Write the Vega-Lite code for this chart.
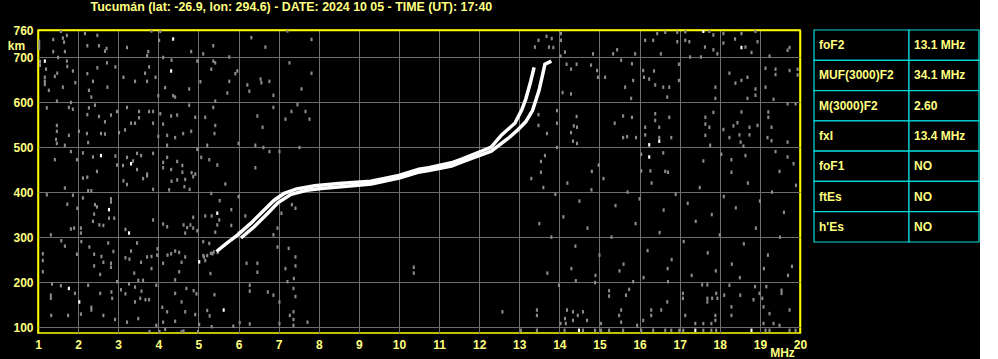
{
  "$schema": "https://vega.github.io/schema/vega-lite/v6.json",
  "background": "#000000",
  "padding": {"left": 6, "top": 0, "right": 0, "bottom": 0},
  "title": {"text": "Tucumán (lat: -26.9, lon: 294.6) - DATE: 2024 10 05 - TIME (UT): 17:40", "anchor": "start", "dx": 84, "offset": 10, "color": "#ffff80", "font": "Liberation Sans", "fontSize": 12.4, "fontWeight": "bold"},
  "datasets": {
    "trace": [
      {"mode": "O", "f": 5.45, "h": 268}, {"mode": "O", "f": 5.7, "h": 286}, {"mode": "O", "f": 5.98, "h": 305}, {"mode": "O", "f": 6.31, "h": 331}, {"mode": "O", "f": 6.64, "h": 360}, {"mode": "O", "f": 6.89, "h": 382}, {"mode": "O", "f": 7.14, "h": 397}, {"mode": "O", "f": 7.45, "h": 407}, {"mode": "O", "f": 7.9, "h": 414}, {"mode": "O", "f": 8.5, "h": 419}, {"mode": "O", "f": 9.3, "h": 424}, {"mode": "O", "f": 10.0, "h": 437}, {"mode": "O", "f": 10.5, "h": 451}, {"mode": "O", "f": 10.74, "h": 454}, {"mode": "O", "f": 11.31, "h": 465}, {"mode": "O", "f": 11.58, "h": 474}, {"mode": "O", "f": 12.0, "h": 489}, {"mode": "O", "f": 12.3, "h": 500}, {"mode": "O", "f": 12.56, "h": 527}, {"mode": "O", "f": 12.89, "h": 553}, {"mode": "O", "f": 13.06, "h": 582}, {"mode": "O", "f": 13.16, "h": 606}, {"mode": "O", "f": 13.28, "h": 644}, {"mode": "O", "f": 13.37, "h": 677},
      {"mode": "X", "f": 6.06, "h": 298}, {"mode": "X", "f": 6.39, "h": 323}, {"mode": "X", "f": 6.73, "h": 353}, {"mode": "X", "f": 6.98, "h": 376}, {"mode": "X", "f": 7.31, "h": 395}, {"mode": "X", "f": 7.7, "h": 404}, {"mode": "X", "f": 8.06, "h": 408}, {"mode": "X", "f": 8.7, "h": 413}, {"mode": "X", "f": 9.31, "h": 418}, {"mode": "X", "f": 10.0, "h": 431}, {"mode": "X", "f": 10.475, "h": 444}, {"mode": "X", "f": 10.74, "h": 448}, {"mode": "X", "f": 11.31, "h": 458}, {"mode": "X", "f": 11.58, "h": 467}, {"mode": "X", "f": 12.0, "h": 481}, {"mode": "X", "f": 12.3, "h": 491}, {"mode": "X", "f": 12.72, "h": 519}, {"mode": "X", "f": 12.95, "h": 537}, {"mode": "X", "f": 13.16, "h": 556}, {"mode": "X", "f": 13.33, "h": 581}, {"mode": "X", "f": 13.49, "h": 625}, {"mode": "X", "f": 13.58, "h": 660}, {"mode": "X", "f": 13.64, "h": 684}, {"mode": "X", "f": 13.8, "h": 691}
    ],
    "noise": [
      {"f":1.57,"h":757,"amp":"weak"},{"f":2.17,"h":752,"amp":"weak"},{"f":2.48,"h":748,"amp":"weak"},{"f":1.38,"h":739,"amp":"weak"},{"f":1.72,"h":748,"amp":"weak"},{"f":1.65,"h":733,"amp":"weak"},{"f":1.62,"h":742,"amp":"weak"},{"f":2.23,"h":725,"amp":"weak"},{"f":2.52,"h":725,"amp":"weak"},{"f":2.71,"h":719,"amp":"weak"},{"f":2.67,"h":713,"amp":"weak"},{"f":3.22,"h":721,"amp":"weak"},{"f":1.38,"h":712,"amp":"weak"},{"f":1.67,"h":712,"amp":"weak"},{"f":1.5,"h":699,"amp":"weak"},{"f":1.72,"h":691,"amp":"weak"},{"f":1.73,"h":679,"amp":"weak"},{"f":1.87,"h":669,"amp":"weak"},{"f":1.2,"h":673,"amp":"weak"},{"f":1.48,"h":664,"amp":"weak"},{"f":1.42,"h":657,"amp":"weak"},{"f":2.23,"h":663,"amp":"weak"},{"f":2.37,"h":646,"amp":"weak"},{"f":2.48,"h":676,"amp":"weak"},{"f":2.72,"h":687,"amp":"weak"},{"f":2.93,"h":678,"amp":"weak"},{"f":3.13,"h":655,"amp":"weak"},{"f":3.42,"h":646,"amp":"weak"},{"f":3.72,"h":646,"amp":"weak"},{"f":3.77,"h":678,"amp":"weak"},{"f":3.93,"h":655,"amp":"weak"},{"f":3.67,"h":664,"amp":"weak"},{"f":2.73,"h":633,"amp":"weak"},{"f":2.27,"h":626,"amp":"weak"},{"f":2.33,"h":611,"amp":"weak"},{"f":1.93,"h":643,"amp":"weak"},{"f":1.62,"h":633,"amp":"weak"},{"f":1.27,"h":626,"amp":"weak"},{"f":1.17,"h":655,"amp":"weak"},{"f":1.17,"h":646,"amp":"weak"},{"f":1.17,"h":639,"amp":"weak"},{"f":1.22,"h":587,"amp":"weak"},{"f":1.47,"h":602,"amp":"weak"},{"f":1.77,"h":588,"amp":"weak"},{"f":1.87,"h":584,"amp":"weak"},{"f":1.82,"h":599,"amp":"weak"},{"f":2.27,"h":587,"amp":"weak"},{"f":2.42,"h":593,"amp":"weak"},{"f":2.23,"h":572,"amp":"weak"},{"f":2.52,"h":568,"amp":"weak"},{"f":2.67,"h":556,"amp":"weak"},{"f":2.82,"h":571,"amp":"weak"},{"f":2.97,"h":579,"amp":"weak"},{"f":3.22,"h":588,"amp":"weak"},{"f":3.52,"h":579,"amp":"weak"},{"f":3.52,"h":565,"amp":"weak"},{"f":3.77,"h":579,"amp":"weak"},{"f":3.87,"h":579,"amp":"weak"},{"f":3.42,"h":553,"amp":"weak"},{"f":3.32,"h":553,"amp":"weak"},{"f":3.87,"h":553,"amp":"weak"},{"f":3.17,"h":538,"amp":"weak"},{"f":3.02,"h":532,"amp":"weak"},{"f":2.67,"h":529,"amp":"weak"},{"f":2.57,"h":530,"amp":"weak"},{"f":2.22,"h":530,"amp":"weak"},{"f":2.02,"h":535,"amp":"weak"},{"f":1.77,"h":526,"amp":"weak"},{"f":1.47,"h":548,"amp":"weak"},{"f":1.47,"h":535,"amp":"weak"},{"f":1.45,"h":517,"amp":"weak"},{"f":1.47,"h":508,"amp":"weak"},{"f":1.67,"h":504,"amp":"weak"},{"f":1.82,"h":490,"amp":"weak"},{"f":2.12,"h":487,"amp":"weak"},{"f":2.25,"h":510,"amp":"weak"},{"f":2.37,"h":478,"amp":"weak"},{"f":2.93,"h":480,"amp":"weak"},{"f":3.22,"h":477,"amp":"weak"},{"f":3.37,"h":469,"amp":"weak"},{"f":3.47,"h":486,"amp":"weak"},{"f":3.57,"h":481,"amp":"weak"},{"f":3.87,"h":486,"amp":"weak"},{"f":3.72,"h":440,"amp":"weak"},{"f":3.47,"h":450,"amp":"weak"},{"f":3.12,"h":459,"amp":"weak"},{"f":2.97,"h":460,"amp":"weak"},{"f":2.47,"h":446,"amp":"weak"},{"f":1.97,"h":472,"amp":"weak"},{"f":1.42,"h":472,"amp":"weak"},{"f":4.0,"h":614,"amp":"weak"},{"f":4.17,"h":632,"amp":"weak"},{"f":4.37,"h":614,"amp":"weak"},{"f":4.42,"h":611,"amp":"weak"},{"f":4.33,"h":693,"amp":"weak"},{"f":4.05,"h":757,"amp":"weak"},{"f":3.83,"h":758,"amp":"weak"},{"f":4.02,"h":737,"amp":"weak"},{"f":3.75,"h":712,"amp":"weak"},{"f":3.72,"h":703,"amp":"weak"},{"f":4.12,"h":699,"amp":"weak"},{"f":4.82,"h":712,"amp":"weak"},{"f":5.12,"h":707,"amp":"weak"},{"f":5.37,"h":725,"amp":"weak"},{"f":5.77,"h":700,"amp":"weak"},{"f":6.32,"h":743,"amp":"weak"},{"f":6.67,"h":722,"amp":"weak"},{"f":7.22,"h":758,"amp":"weak"},{"f":7.82,"h":739,"amp":"weak"},{"f":7.27,"h":687,"amp":"weak"},{"f":7.82,"h":664,"amp":"weak"},{"f":7.57,"h":629,"amp":"weak"},{"f":6.87,"h":615,"amp":"weak"},{"f":6.55,"h":651,"amp":"weak"},{"f":6.77,"h":646,"amp":"weak"},{"f":6.57,"h":643,"amp":"weak"},{"f":6.22,"h":638,"amp":"weak"},{"f":6.27,"h":624,"amp":"weak"},{"f":5.97,"h":669,"amp":"weak"},{"f":5.92,"h":663,"amp":"weak"},{"f":5.77,"h":646,"amp":"weak"},{"f":5.72,"h":620,"amp":"weak"},{"f":5.32,"h":673,"amp":"weak"},{"f":4.97,"h":691,"amp":"weak"},{"f":5.37,"h":691,"amp":"weak"},{"f":5.42,"h":687,"amp":"weak"},{"f":5.05,"h":645,"amp":"weak"},{"f":4.77,"h":629,"amp":"weak"},{"f":5.42,"h":602,"amp":"weak"},{"f":5.37,"h":588,"amp":"weak"},{"f":5.17,"h":566,"amp":"weak"},{"f":4.77,"h":593,"amp":"weak"},{"f":4.47,"h":571,"amp":"weak"},{"f":4.32,"h":569,"amp":"weak"},{"f":4.12,"h":551,"amp":"weak"},{"f":4.05,"h":574,"amp":"weak"},{"f":4.92,"h":566,"amp":"weak"},{"f":5.42,"h":548,"amp":"weak"},{"f":5.4,"h":530,"amp":"weak"},{"f":4.82,"h":535,"amp":"weak"},{"f":4.62,"h":530,"amp":"weak"},{"f":4.42,"h":521,"amp":"weak"},{"f":4.22,"h":526,"amp":"weak"},{"f":4.22,"h":504,"amp":"weak"},{"f":4.0,"h":524,"amp":"weak"},{"f":5.22,"h":504,"amp":"weak"},{"f":6.0,"h":508,"amp":"weak"},{"f":6.42,"h":504,"amp":"weak"},{"f":6.62,"h":499,"amp":"weak"},{"f":6.77,"h":490,"amp":"weak"},{"f":7.02,"h":490,"amp":"weak"},{"f":6.47,"h":569,"amp":"weak"},{"f":6.6,"h":544,"amp":"weak"},{"f":7.17,"h":562,"amp":"weak"},{"f":7.32,"h":579,"amp":"weak"},{"f":7.47,"h":594,"amp":"weak"},{"f":7.67,"h":579,"amp":"weak"},{"f":7.77,"h":562,"amp":"weak"},{"f":7.52,"h":499,"amp":"weak"},{"f":6.87,"h":588,"amp":"weak"},{"f":4.97,"h":495,"amp":"weak"},{"f":5.07,"h":477,"amp":"weak"},{"f":5.27,"h":472,"amp":"weak"},{"f":5.47,"h":460,"amp":"weak"},{"f":4.47,"h":468,"amp":"weak"},{"f":4.6,"h":459,"amp":"weak"},{"f":4.22,"h":477,"amp":"weak"},{"f":4.12,"h":466,"amp":"weak"},{"f":4.12,"h":454,"amp":"weak"},{"f":4.32,"h":450,"amp":"weak"},{"f":4.6,"h":444,"amp":"weak"},{"f":4.83,"h":443,"amp":"weak"},{"f":4.92,"h":440,"amp":"weak"},{"f":6.42,"h":454,"amp":"weak"},
      {"f":1.17,"h":691,"amp":"strong"},{"f":2.57,"h":481,"amp":"strong"},{"f":3.32,"h":463,"amp":"strong"},{"f":4.32,"h":669,"amp":"strong"},{"f":4.37,"h":740,"amp":"strong"},
      {"f":1.03,"h":735,"amp":"weak"},{"f":1.03,"h":727,"amp":"weak"},{"f":1.03,"h":719,"amp":"weak"},{"f":1.05,"h":690,"amp":"weak"},{"f":1.05,"h":682,"amp":"weak"},
      {"f":2.12,"h":431,"amp":"weak"},{"f":2.23,"h":433,"amp":"weak"},{"f":1.67,"h":409,"amp":"weak"},{"f":1.87,"h":393,"amp":"weak"},{"f":2.25,"h":403,"amp":"weak"},{"f":2.33,"h":403,"amp":"weak"},{"f":3.13,"h":425,"amp":"weak"},{"f":3.22,"h":417,"amp":"weak"},{"f":3.62,"h":430,"amp":"weak"},{"f":3.72,"h":436,"amp":"weak"},{"f":3.87,"h":406,"amp":"weak"},{"f":4.27,"h":405,"amp":"weak"},{"f":4.33,"h":424,"amp":"weak"},{"f":4.47,"h":427,"amp":"weak"},{"f":4.67,"h":428,"amp":"weak"},{"f":4.87,"h":434,"amp":"weak"},{"f":4.65,"h":412,"amp":"weak"},{"f":4.78,"h":406,"amp":"weak"},{"f":1.22,"h":394,"amp":"weak"},{"f":1.73,"h":373,"amp":"weak"},{"f":1.98,"h":364,"amp":"weak"},{"f":2.12,"h":387,"amp":"weak"},{"f":2.42,"h":372,"amp":"weak"},{"f":2.47,"h":367,"amp":"weak"},{"f":2.82,"h":385,"amp":"weak"},{"f":2.82,"h":378,"amp":"weak"},{"f":2.4,"h":351,"amp":"weak"},{"f":2.37,"h":335,"amp":"weak"},{"f":2.53,"h":327,"amp":"weak"},{"f":2.63,"h":326,"amp":"weak"},{"f":2.9,"h":342,"amp":"weak"},{"f":2.77,"h":342,"amp":"weak"},{"f":1.9,"h":320,"amp":"weak"},{"f":2.07,"h":320,"amp":"weak"},{"f":1.82,"h":318,"amp":"weak"},{"f":2.07,"h":309,"amp":"weak"},{"f":1.32,"h":305,"amp":"weak"},{"f":1.12,"h":263,"amp":"weak"},{"f":1.12,"h":248,"amp":"weak"},{"f":1.12,"h":223,"amp":"weak"},{"f":1.58,"h":292,"amp":"weak"},{"f":1.67,"h":280,"amp":"weak"},{"f":1.97,"h":262,"amp":"weak"},{"f":2.08,"h":290,"amp":"weak"},{"f":2.28,"h":278,"amp":"weak"},{"f":2.4,"h":262,"amp":"weak"},{"f":2.4,"h":236,"amp":"weak"},{"f":2.58,"h":257,"amp":"weak"},{"f":2.63,"h":244,"amp":"weak"},{"f":2.82,"h":242,"amp":"weak"},{"f":2.82,"h":233,"amp":"weak"},{"f":2.55,"h":217,"amp":"weak"},{"f":2.75,"h":287,"amp":"weak"},{"f":2.88,"h":268,"amp":"weak"},{"f":3.18,"h":317,"amp":"weak"},{"f":3.28,"h":251,"amp":"weak"},{"f":3.18,"h":254,"amp":"weak"},{"f":3.47,"h":287,"amp":"weak"},{"f":3.32,"h":269,"amp":"weak"},{"f":3.4,"h":220,"amp":"weak"},{"f":3.57,"h":244,"amp":"weak"},{"f":3.5,"h":204,"amp":"weak"},{"f":3.62,"h":204,"amp":"weak"},{"f":3.72,"h":256,"amp":"weak"},{"f":3.83,"h":257,"amp":"weak"},{"f":3.97,"h":260,"amp":"weak"},{"f":3.98,"h":274,"amp":"weak"},{"f":3.83,"h":230,"amp":"weak"},{"f":3.87,"h":338,"amp":"weak"},{"f":4.12,"h":329,"amp":"weak"},{"f":4.22,"h":323,"amp":"weak"},{"f":4.12,"h":242,"amp":"weak"},{"f":4.23,"h":260,"amp":"weak"},{"f":4.32,"h":263,"amp":"weak"},{"f":4.42,"h":269,"amp":"weak"},{"f":4.52,"h":266,"amp":"weak"},{"f":4.52,"h":223,"amp":"weak"},{"f":4.67,"h":256,"amp":"weak"},{"f":4.58,"h":244,"amp":"weak"},{"f":4.42,"h":205,"amp":"weak"},{"f":4.63,"h":327,"amp":"weak"},{"f":4.72,"h":321,"amp":"weak"},{"f":4.87,"h":344,"amp":"weak"},{"f":4.87,"h":320,"amp":"weak"},{"f":4.8,"h":327,"amp":"weak"},{"f":4.97,"h":314,"amp":"weak"},{"f":4.67,"h":309,"amp":"weak"},{"f":5.12,"h":290,"amp":"weak"},{"f":5.12,"h":259,"amp":"weak"},{"f":5.17,"h":248,"amp":"weak"},{"f":5.3,"h":219,"amp":"weak"},{"f":5.35,"h":263,"amp":"weak"},{"f":5.27,"h":286,"amp":"weak"},{"f":5.48,"h":266,"amp":"weak"},{"f":5.33,"h":347,"amp":"weak"},{"f":5.47,"h":327,"amp":"weak"},{"f":5.52,"h":338,"amp":"weak"},{"f":5.53,"h":381,"amp":"weak"},{"f":5.42,"h":311,"amp":"weak"},{"f":5.17,"h":347,"amp":"weak"},{"f":5.32,"h":397,"amp":"weak"},{"f":5.67,"h":418,"amp":"weak"},{"f":6.0,"h":390,"amp":"weak"},{"f":5.82,"h":361,"amp":"weak"},{"f":5.82,"h":326,"amp":"weak"},{"f":6.0,"h":309,"amp":"weak"},{"f":6.17,"h":347,"amp":"weak"},{"f":6.2,"h":242,"amp":"weak"},{"f":6.47,"h":242,"amp":"weak"},{"f":6.47,"h":222,"amp":"weak"},{"f":6.87,"h":305,"amp":"weak"},{"f":6.97,"h":320,"amp":"weak"},{"f":7.07,"h":353,"amp":"weak"},{"f":7.33,"h":372,"amp":"weak"},{"f":7.42,"h":364,"amp":"weak"},{"f":6.97,"h":278,"amp":"weak"},{"f":7.25,"h":275,"amp":"weak"},{"f":7.42,"h":256,"amp":"weak"},{"f":7.42,"h":236,"amp":"weak"},{"f":7.17,"h":230,"amp":"weak"},{"f":7.38,"h":208,"amp":"weak"},{"f":10.37,"h":233,"amp":"weak"},{"f":10.37,"h":220,"amp":"weak"},{"f":1.35,"h":196,"amp":"weak"},{"f":1.57,"h":192,"amp":"weak"},{"f":1.32,"h":171,"amp":"weak"},{"f":1.32,"h":164,"amp":"weak"},{"f":1.92,"h":175,"amp":"weak"},{"f":2.25,"h":193,"amp":"weak"},{"f":2.33,"h":144,"amp":"weak"},{"f":2.55,"h":175,"amp":"weak"},{"f":2.83,"h":178,"amp":"weak"},{"f":2.85,"h":164,"amp":"weak"},{"f":2.97,"h":201,"amp":"weak"},{"f":3.07,"h":183,"amp":"weak"},{"f":3.18,"h":174,"amp":"weak"},{"f":3.27,"h":196,"amp":"weak"},{"f":3.42,"h":156,"amp":"weak"},{"f":3.55,"h":164,"amp":"weak"},{"f":3.68,"h":161,"amp":"weak"},{"f":3.77,"h":161,"amp":"weak"},{"f":3.42,"h":189,"amp":"weak"},{"f":3.58,"h":180,"amp":"weak"},{"f":3.95,"h":193,"amp":"weak"},{"f":4.1,"h":144,"amp":"weak"},{"f":4.22,"h":134,"amp":"weak"},{"f":4.42,"h":175,"amp":"weak"},{"f":4.58,"h":156,"amp":"weak"},{"f":4.7,"h":186,"amp":"weak"},{"f":4.88,"h":181,"amp":"weak"},{"f":4.95,"h":174,"amp":"weak"},{"f":4.67,"h":134,"amp":"weak"},{"f":5.22,"h":137,"amp":"weak"},{"f":5.28,"h":125,"amp":"weak"},{"f":5.4,"h":172,"amp":"weak"},{"f":6.28,"h":193,"amp":"weak"},{"f":6.28,"h":180,"amp":"weak"},{"f":6.73,"h":178,"amp":"weak"},{"f":6.87,"h":171,"amp":"weak"},{"f":7.02,"h":156,"amp":"weak"},{"f":7.22,"h":201,"amp":"weak"},{"f":7.37,"h":186,"amp":"weak"},{"f":7.42,"h":168,"amp":"weak"},{"f":7.28,"h":126,"amp":"weak"},{"f":7.37,"h":134,"amp":"weak"},{"f":7.37,"h":117,"amp":"weak"},{"f":1.33,"h":126,"amp":"weak"},{"f":1.75,"h":126,"amp":"weak"},{"f":2.07,"h":129,"amp":"weak"},{"f":2.33,"h":138,"amp":"weak"},{"f":2.63,"h":126,"amp":"weak"},{"f":2.92,"h":117,"amp":"weak"},{"f":3.22,"h":111,"amp":"weak"},{"f":3.5,"h":119,"amp":"weak"},{"f":3.95,"h":104,"amp":"weak"},{"f":4.12,"h":111,"amp":"weak"},{"f":4.17,"h":95,"amp":"weak"},{"f":4.42,"h":113,"amp":"weak"},{"f":4.63,"h":91,"amp":"weak"},{"f":4.92,"h":128,"amp":"weak"},{"f":5.02,"h":106,"amp":"weak"},{"f":5.33,"h":101,"amp":"weak"},{"f":5.87,"h":102,"amp":"weak"},{"f":6.03,"h":110,"amp":"weak"},{"f":6.28,"h":107,"amp":"weak"},{"f":7.02,"h":108,"amp":"weak"},{"f":7.37,"h":104,"amp":"weak"},{"f":7.72,"h":111,"amp":"weak"},
      {"f":3.78,"h":90,"amp":"weak"},{"f":4.03,"h":90,"amp":"weak"},{"f":4.58,"h":90,"amp":"weak"},{"f":4.99,"h":90,"amp":"weak"},
      {"f":5.14,"h":256,"amp":"weak"},{"f":5.22,"h":259,"amp":"weak"},{"f":5.31,"h":264,"amp":"weak"},{"f":5.38,"h":267,"amp":"weak"},
      {"f":2.77,"h":361,"amp":"strong"},{"f":3.27,"h":309,"amp":"strong"},{"f":5.02,"h":245,"amp":"strong"},{"f":5.47,"h":353,"amp":"strong"},{"f":1.77,"h":186,"amp":"strong"},{"f":2.03,"h":156,"amp":"strong"},{"f":5.63,"h":138,"amp":"strong"},
      {"f":13.39,"h":722,"amp":"weak"},{"f":13.48,"h":737,"amp":"weak"},{"f":13.68,"h":746,"amp":"weak"},{"f":13.81,"h":741,"amp":"weak"},{"f":13.74,"h":722,"amp":"weak"},{"f":13.85,"h":721,"amp":"weak"},{"f":14.04,"h":752,"amp":"weak"},{"f":14.04,"h":737,"amp":"weak"},{"f":14.14,"h":711,"amp":"weak"},{"f":14.84,"h":707,"amp":"weak"},{"f":15.34,"h":707,"amp":"weak"},{"f":15.44,"h":716,"amp":"weak"},{"f":15.54,"h":693,"amp":"weak"},{"f":15.89,"h":707,"amp":"weak"},{"f":16.14,"h":737,"amp":"weak"},{"f":16.34,"h":737,"amp":"weak"},{"f":16.44,"h":752,"amp":"weak"},{"f":16.64,"h":755,"amp":"weak"},{"f":16.53,"h":707,"amp":"weak"},{"f":16.94,"h":755,"amp":"weak"},{"f":16.94,"h":734,"amp":"weak"},{"f":17.14,"h":756,"amp":"weak"},{"f":17.14,"h":737,"amp":"weak"},{"f":17.24,"h":734,"amp":"weak"},{"f":17.63,"h":722,"amp":"weak"},{"f":17.74,"h":757,"amp":"weak"},{"f":17.84,"h":749,"amp":"weak"},{"f":17.84,"h":716,"amp":"weak"},{"f":17.94,"h":707,"amp":"weak"},{"f":18.09,"h":752,"amp":"weak"},{"f":18.09,"h":731,"amp":"weak"},{"f":18.38,"h":740,"amp":"weak"},{"f":18.54,"h":752,"amp":"weak"},{"f":18.64,"h":722,"amp":"weak"},{"f":18.79,"h":710,"amp":"weak"},{"f":18.89,"h":757,"amp":"weak"},{"f":18.94,"h":734,"amp":"weak"},{"f":19.24,"h":702,"amp":"weak"},{"f":19.69,"h":715,"amp":"weak"},{"f":19.74,"h":721,"amp":"weak"},{"f":14.03,"h":702,"amp":"weak"},{"f":14.18,"h":684,"amp":"weak"},{"f":14.29,"h":673,"amp":"weak"},{"f":14.43,"h":684,"amp":"weak"},{"f":14.79,"h":682,"amp":"weak"},{"f":14.94,"h":670,"amp":"weak"},{"f":14.96,"h":655,"amp":"weak"},{"f":15.14,"h":655,"amp":"weak"},{"f":15.81,"h":685,"amp":"weak"},{"f":15.84,"h":648,"amp":"weak"},{"f":15.64,"h":633,"amp":"weak"},{"f":15.79,"h":608,"amp":"weak"},{"f":16.09,"h":670,"amp":"weak"},{"f":16.11,"h":655,"amp":"weak"},{"f":16.24,"h":651,"amp":"weak"},{"f":16.36,"h":669,"amp":"weak"},{"f":16.39,"h":638,"amp":"weak"},{"f":16.59,"h":633,"amp":"weak"},{"f":16.69,"h":611,"amp":"weak"},{"f":16.74,"h":633,"amp":"weak"},{"f":16.98,"h":684,"amp":"weak"},{"f":16.98,"h":648,"amp":"weak"},{"f":17.26,"h":700,"amp":"weak"},{"f":17.53,"h":700,"amp":"weak"},{"f":17.89,"h":633,"amp":"weak"},{"f":17.89,"h":608,"amp":"weak"},{"f":18.24,"h":664,"amp":"weak"},{"f":18.39,"h":642,"amp":"weak"},{"f":18.54,"h":648,"amp":"weak"},{"f":18.69,"h":655,"amp":"weak"},{"f":18.89,"h":629,"amp":"weak"},{"f":18.89,"h":615,"amp":"weak"},{"f":19.14,"h":675,"amp":"weak"},{"f":19.14,"h":633,"amp":"weak"},{"f":19.39,"h":673,"amp":"weak"},{"f":19.39,"h":661,"amp":"weak"},{"f":19.74,"h":670,"amp":"weak"},{"f":19.94,"h":673,"amp":"weak"},{"f":19.94,"h":660,"amp":"weak"},{"f":19.34,"h":606,"amp":"weak"},{"f":19.69,"h":596,"amp":"weak"},{"f":19.89,"h":596,"amp":"weak"},{"f":18.69,"h":608,"amp":"weak"},{"f":13.94,"h":581,"amp":"weak"},{"f":13.94,"h":553,"amp":"weak"},{"f":14.08,"h":621,"amp":"weak"},{"f":14.29,"h":618,"amp":"weak"},{"f":14.43,"h":568,"amp":"weak"},{"f":14.36,"h":547,"amp":"weak"},{"f":14.44,"h":544,"amp":"weak"},{"f":14.29,"h":532,"amp":"weak"},{"f":14.44,"h":508,"amp":"weak"},{"f":14.34,"h":513,"amp":"weak"},{"f":13.69,"h":530,"amp":"weak"},{"f":13.48,"h":572,"amp":"weak"},{"f":13.48,"h":548,"amp":"weak"},{"f":13.94,"h":499,"amp":"weak"},{"f":13.64,"h":481,"amp":"weak"},{"f":13.54,"h":468,"amp":"weak"},{"f":13.54,"h":444,"amp":"weak"},{"f":14.81,"h":446,"amp":"weak"},{"f":14.98,"h":460,"amp":"weak"},{"f":15.38,"h":553,"amp":"weak"},{"f":15.59,"h":569,"amp":"weak"},{"f":15.81,"h":566,"amp":"weak"},{"f":15.59,"h":521,"amp":"weak"},{"f":15.69,"h":523,"amp":"weak"},{"f":15.91,"h":521,"amp":"weak"},{"f":16.04,"h":484,"amp":"weak"},{"f":16.14,"h":527,"amp":"weak"},{"f":16.14,"h":544,"amp":"weak"},{"f":16.39,"h":574,"amp":"weak"},{"f":16.39,"h":559,"amp":"weak"},{"f":16.49,"h":544,"amp":"weak"},{"f":16.49,"h":521,"amp":"weak"},{"f":16.59,"h":487,"amp":"weak"},{"f":16.64,"h":446,"amp":"weak"},{"f":16.74,"h":566,"amp":"weak"},{"f":16.79,"h":521,"amp":"weak"},{"f":17.64,"h":566,"amp":"weak"},{"f":17.64,"h":551,"amp":"weak"},{"f":17.64,"h":526,"amp":"weak"},{"f":17.74,"h":544,"amp":"weak"},{"f":17.84,"h":577,"amp":"weak"},{"f":18.09,"h":539,"amp":"weak"},{"f":18.24,"h":521,"amp":"weak"},{"f":18.34,"h":547,"amp":"weak"},{"f":18.44,"h":554,"amp":"weak"},{"f":18.49,"h":527,"amp":"weak"},{"f":18.54,"h":578,"amp":"weak"},{"f":18.59,"h":502,"amp":"weak"},{"f":18.64,"h":481,"amp":"weak"},{"f":18.74,"h":544,"amp":"weak"},{"f":18.74,"h":527,"amp":"weak"},{"f":18.94,"h":548,"amp":"weak"},{"f":19.21,"h":578,"amp":"weak"},{"f":19.21,"h":566,"amp":"weak"},{"f":19.29,"h":544,"amp":"weak"},{"f":19.29,"h":514,"amp":"weak"},{"f":19.19,"h":521,"amp":"weak"},{"f":19.39,"h":490,"amp":"weak"},{"f":19.69,"h":511,"amp":"weak"},{"f":19.69,"h":478,"amp":"weak"},{"f":19.84,"h":463,"amp":"weak"},{"f":19.49,"h":446,"amp":"weak"},{"f":18.04,"h":484,"amp":"weak"},{"f":18.29,"h":472,"amp":"weak"},{"f":18.29,"h":444,"amp":"weak"},{"f":18.52,"h":511,"amp":"weak"},{"f":17.59,"h":469,"amp":"weak"},{"f":17.76,"h":504,"amp":"weak"},{"f":16.27,"h":447,"amp":"weak"},{"f":16.04,"h":447,"amp":"weak"},{"f":16.71,"h":444,"amp":"weak"},
      {"f":18.54,"h":721,"amp":"strong"},{"f":16.24,"h":505,"amp":"strong"},{"f":16.24,"h":478,"amp":"strong"},{"f":16.49,"h":513,"amp":"strong"},{"f":17.59,"h":757,"amp":"strong"},
      {"f":13.99,"h":193,"amp":"weak"},{"f":14.41,"h":203,"amp":"weak"},{"f":14.89,"h":199,"amp":"weak"},{"f":15.24,"h":181,"amp":"weak"},{"f":15.24,"h":169,"amp":"weak"},{"f":15.74,"h":184,"amp":"weak"},{"f":15.66,"h":171,"amp":"weak"},{"f":15.84,"h":201,"amp":"weak"},{"f":16.71,"h":201,"amp":"weak"},{"f":17.08,"h":175,"amp":"weak"},{"f":17.08,"h":164,"amp":"weak"},{"f":17.56,"h":194,"amp":"weak"},{"f":17.69,"h":194,"amp":"weak"},{"f":17.69,"h":164,"amp":"weak"},{"f":17.69,"h":156,"amp":"weak"},{"f":17.81,"h":164,"amp":"weak"},{"f":17.91,"h":175,"amp":"weak"},{"f":17.94,"h":164,"amp":"weak"},{"f":18.11,"h":171,"amp":"weak"},{"f":18.24,"h":193,"amp":"weak"},{"f":18.51,"h":171,"amp":"weak"},{"f":18.88,"h":190,"amp":"weak"},{"f":19.16,"h":190,"amp":"weak"},{"f":19.54,"h":182,"amp":"weak"},{"f":19.54,"h":175,"amp":"weak"},{"f":19.06,"h":164,"amp":"weak"},{"f":18.84,"h":161,"amp":"weak"},{"f":13.44,"h":138,"amp":"weak"},{"f":13.44,"h":126,"amp":"weak"},{"f":14.19,"h":138,"amp":"weak"},{"f":14.34,"h":134,"amp":"weak"},{"f":14.59,"h":134,"amp":"weak"},{"f":14.46,"h":126,"amp":"weak"},{"f":14.14,"h":119,"amp":"weak"},{"f":14.16,"h":108,"amp":"weak"},{"f":14.34,"h":115,"amp":"weak"},{"f":14.69,"h":115,"amp":"weak"},{"f":14.03,"h":108,"amp":"weak"},{"f":15.04,"h":108,"amp":"weak"},{"f":15.49,"h":126,"amp":"weak"},{"f":15.54,"h":138,"amp":"weak"},{"f":15.54,"h":111,"amp":"weak"},{"f":15.94,"h":104,"amp":"weak"},{"f":16.09,"h":115,"amp":"weak"},{"f":16.29,"h":126,"amp":"weak"},{"f":16.29,"h":138,"amp":"weak"},{"f":16.54,"h":138,"amp":"weak"},{"f":16.69,"h":156,"amp":"weak"},{"f":17.14,"h":126,"amp":"weak"},{"f":17.39,"h":108,"amp":"weak"},{"f":17.59,"h":108,"amp":"weak"},{"f":17.79,"h":108,"amp":"weak"},{"f":17.89,"h":126,"amp":"weak"},{"f":18.29,"h":126,"amp":"weak"},{"f":18.29,"h":145,"amp":"weak"},{"f":17.89,"h":115,"amp":"weak"},{"f":19.09,"h":145,"amp":"weak"},{"f":19.24,"h":130,"amp":"weak"},{"f":19.34,"h":108,"amp":"weak"},{"f":19.49,"h":104,"amp":"weak"},{"f":19.74,"h":138,"amp":"weak"},{"f":19.09,"h":108,"amp":"weak"},{"f":12.58,"h":134,"amp":"weak"},{"f":18.99,"h":175,"amp":"weak"},
      {"f":13.04,"h":93,"amp":"weak"},{"f":13.44,"h":93,"amp":"weak"},{"f":14.13,"h":93,"amp":"weak"},{"f":14.59,"h":93,"amp":"weak"},{"f":14.89,"h":93,"amp":"weak"},{"f":15.04,"h":93,"amp":"weak"},{"f":15.24,"h":93,"amp":"weak"},{"f":15.59,"h":93,"amp":"weak"},{"f":16.04,"h":93,"amp":"weak"},{"f":16.34,"h":93,"amp":"weak"},{"f":16.64,"h":93,"amp":"weak"},{"f":16.79,"h":93,"amp":"weak"},{"f":16.99,"h":93,"amp":"weak"},{"f":17.09,"h":93,"amp":"weak"},{"f":17.59,"h":93,"amp":"weak"},{"f":17.79,"h":93,"amp":"weak"},{"f":17.91,"h":93,"amp":"weak"},{"f":19.14,"h":93,"amp":"weak"},{"f":19.24,"h":93,"amp":"weak"},{"f":19.74,"h":93,"amp":"weak"},{"f":19.89,"h":93,"amp":"weak"},
      {"f":14.49,"h":93,"amp":"strong"},{"f":17.39,"h":93,"amp":"strong"},{"f":18.79,"h":93,"amp":"strong"},
      {"f":13.3,"h":430,"amp":"weak"},{"f":13.6,"h":410,"amp":"weak"},{"f":13.9,"h":395,"amp":"weak"},{"f":14.2,"h":420,"amp":"weak"},{"f":14.5,"h":380,"amp":"weak"},{"f":14.8,"h":405,"amp":"weak"},{"f":15.1,"h":430,"amp":"weak"},{"f":15.4,"h":370,"amp":"weak"},{"f":15.7,"h":400,"amp":"weak"},{"f":16.0,"h":385,"amp":"weak"},{"f":16.3,"h":420,"amp":"weak"},{"f":16.6,"h":360,"amp":"weak"},{"f":16.9,"h":395,"amp":"weak"},{"f":17.2,"h":375,"amp":"weak"},{"f":17.5,"h":410,"amp":"weak"},{"f":17.8,"h":350,"amp":"weak"},{"f":18.1,"h":390,"amp":"weak"},{"f":18.4,"h":365,"amp":"weak"},{"f":18.7,"h":420,"amp":"weak"},{"f":19.0,"h":380,"amp":"weak"},{"f":19.3,"h":400,"amp":"weak"},{"f":19.6,"h":355,"amp":"weak"},{"f":19.9,"h":415,"amp":"weak"},
      {"f":13.5,"h":330,"amp":"weak"},{"f":13.8,"h":300,"amp":"weak"},{"f":14.1,"h":345,"amp":"weak"},{"f":14.4,"h":280,"amp":"weak"},{"f":14.7,"h":320,"amp":"weak"},{"f":15.0,"h":260,"amp":"weak"},{"f":15.3,"h":300,"amp":"weak"},{"f":15.6,"h":240,"amp":"weak"},{"f":15.9,"h":330,"amp":"weak"},{"f":16.2,"h":270,"amp":"weak"},{"f":16.5,"h":310,"amp":"weak"},{"f":16.8,"h":250,"amp":"weak"},{"f":17.1,"h":290,"amp":"weak"},{"f":17.4,"h":335,"amp":"weak"},{"f":17.7,"h":265,"amp":"weak"},{"f":18.0,"h":305,"amp":"weak"},{"f":18.3,"h":240,"amp":"weak"},{"f":18.6,"h":285,"amp":"weak"},{"f":18.9,"h":320,"amp":"weak"},{"f":19.2,"h":260,"amp":"weak"},{"f":19.5,"h":300,"amp":"weak"},{"f":19.8,"h":235,"amp":"weak"},
      {"f":13.7,"h":220,"amp":"weak"},{"f":14.3,"h":230,"amp":"weak"},{"f":14.9,"h":215,"amp":"weak"},{"f":15.5,"h":225,"amp":"weak"},{"f":16.1,"h":210,"amp":"weak"},{"f":16.7,"h":230,"amp":"weak"},{"f":17.3,"h":215,"amp":"weak"},{"f":17.9,"h":225,"amp":"weak"},{"f":18.5,"h":210,"amp":"weak"},{"f":19.1,"h":230,"amp":"weak"},{"f":19.7,"h":215,"amp":"weak"}
    ],
    "params": [
      {"row": "foF2", "col": "name", "text": "foF2"}, {"row": "foF2", "col": "value", "text": "13.1 MHz"},
      {"row": "MUF(3000)F2", "col": "name", "text": "MUF(3000)F2"}, {"row": "MUF(3000)F2", "col": "value", "text": "34.1 MHz"},
      {"row": "M(3000)F2", "col": "name", "text": "M(3000)F2"}, {"row": "M(3000)F2", "col": "value", "text": "2.60"},
      {"row": "fxI", "col": "name", "text": "fxI"}, {"row": "fxI", "col": "value", "text": "13.4 MHz"},
      {"row": "foF1", "col": "name", "text": "foF1"}, {"row": "foF1", "col": "value", "text": "NO"},
      {"row": "ftEs", "col": "name", "text": "ftEs"}, {"row": "ftEs", "col": "value", "text": "NO"},
      {"row": "h'Es", "col": "name", "text": "h'Es"}, {"row": "h'Es", "col": "value", "text": "NO"}
    ]
  },
  "bounds": "flush",
  "spacing": 14,
  "hconcat": [
    {
      "width": 762,
      "height": 303,
      "view": {"stroke": "#ffff00", "strokeWidth": 1.5, "fill": "#000000"},
      "encoding": {
        "x": {"field": "f", "type": "quantitative", "scale": {"domain": [1, 20], "nice": false, "zero": false},
              "axis": {"values": [1,2,3,4,5,6,7,8,9,10,11,12,13,14,15,16,17,18,19,20], "title": "MHz", "grid": true,
                       "gridColor": {"condition": {"test": "datum.value === 1 || datum.value === 20", "value": "#ffff00"}, "value": "#6e6e6e"},
                       "gridWidth": {"condition": {"test": "datum.value === 1 || datum.value === 20", "value": 1.5}, "value": 1},
                       "domain": false, "ticks": false, "labelPadding": 6, "labelFlush": false, "labelOverlap": false, "titleX": 744, "titleY": 23, "titleAlign": "center", "titleBaseline": "alphabetic", "titlePadding": 0}},
        "y": {"field": "h", "type": "quantitative", "scale": {"domain": [87, 760], "nice": false, "zero": false},
              "axis": {"values": [100,200,300,400,500,600,700,760], "title": "km", "grid": true,
                       "gridColor": {"condition": {"test": "datum.value === 760", "value": "#ffff00"}, "value": "#6e6e6e"},
                       "gridWidth": {"condition": {"test": "datum.value === 760", "value": 1.5}, "value": 1},
                       "domain": false, "ticks": false, "labelPadding": 5, "labelFlush": false, "labelOverlap": false, "titleAngle": 0, "titleX": -22, "titleY": 19, "titleAlign": "center", "titleBaseline": "alphabetic"}}
      },
      "layer": [
        {
          "data": {"name": "noise"},
          "mark": {"type": "point", "filled": true, "shape": "M-0.6,-1H0.6V1H-0.6Z", "size": 12, "opacity": 1, "clip": true},
          "encoding": {
            "color": {"field": "amp", "type": "nominal", "scale": {"domain": ["weak", "strong"], "range": ["#8c8c8c", "#ffffff"]}, "legend": null}
          }
        },
        {
          "data": {"name": "trace"},
          "mark": {"type": "line", "strokeWidth": 3.5, "color": "#ffffff", "clip": true},
          "encoding": {"detail": {"field": "mode", "type": "nominal"}}
        }
      ]
    },
    {
      "bounds": "flush",
      "spacing": 0,
      "hconcat": [
        {
          "width": 95,
          "height": 212,
          "view": {"stroke": null},
          "data": {"name": "params"},
          "transform": [{"filter": "datum.col == 'name'"}],
          "encoding": {
            "y": {"field": "row", "type": "ordinal", "sort": null, "scale": {"paddingInner": 0, "paddingOuter": 0}, "axis": null},
            "x": {"field": "col", "type": "nominal", "scale": {"paddingInner": 0, "paddingOuter": 0}, "axis": null}
          },
          "layer": [
            {"mark": {"type": "rect", "fill": "#000000", "stroke": "#00dcdc", "strokeWidth": 1.2}},
            {"mark": {"type": "text", "align": "left", "dx": 5, "color": "#ffff80", "font": "Liberation Sans", "fontSize": 12, "fontWeight": "bold"},
             "encoding": {"text": {"field": "text"}, "x": {"field": "col", "type": "nominal", "bandPosition": 0}}}
          ]
        },
        {
          "width": 70,
          "height": 212,
          "view": {"stroke": null},
          "data": {"name": "params"},
          "transform": [{"filter": "datum.col == 'value'"}],
          "encoding": {
            "y": {"field": "row", "type": "ordinal", "sort": null, "scale": {"paddingInner": 0, "paddingOuter": 0}, "axis": null},
            "x": {"field": "col", "type": "nominal", "scale": {"paddingInner": 0, "paddingOuter": 0}, "axis": null}
          },
          "layer": [
            {"mark": {"type": "rect", "fill": "#000000", "stroke": "#00dcdc", "strokeWidth": 1.2}},
            {"mark": {"type": "text", "align": "left", "dx": 5, "color": "#ffff80", "font": "Liberation Sans", "fontSize": 12, "fontWeight": "bold"},
             "encoding": {"text": {"field": "text"}, "x": {"field": "col", "type": "nominal", "bandPosition": 0}}}
          ]
        }
      ]
    }
  ],
  "config": {
    "background": "#000000",
    "view": {"stroke": null},
    "axis": {"labelColor": "#ffff80", "labelFont": "Liberation Sans", "labelFontSize": 12, "labelFontWeight": "bold", "titleColor": "#ffff80", "titleFont": "Liberation Sans", "titleFontSize": 12, "titleFontWeight": "bold", "gridWidth": 1}
  }
}
